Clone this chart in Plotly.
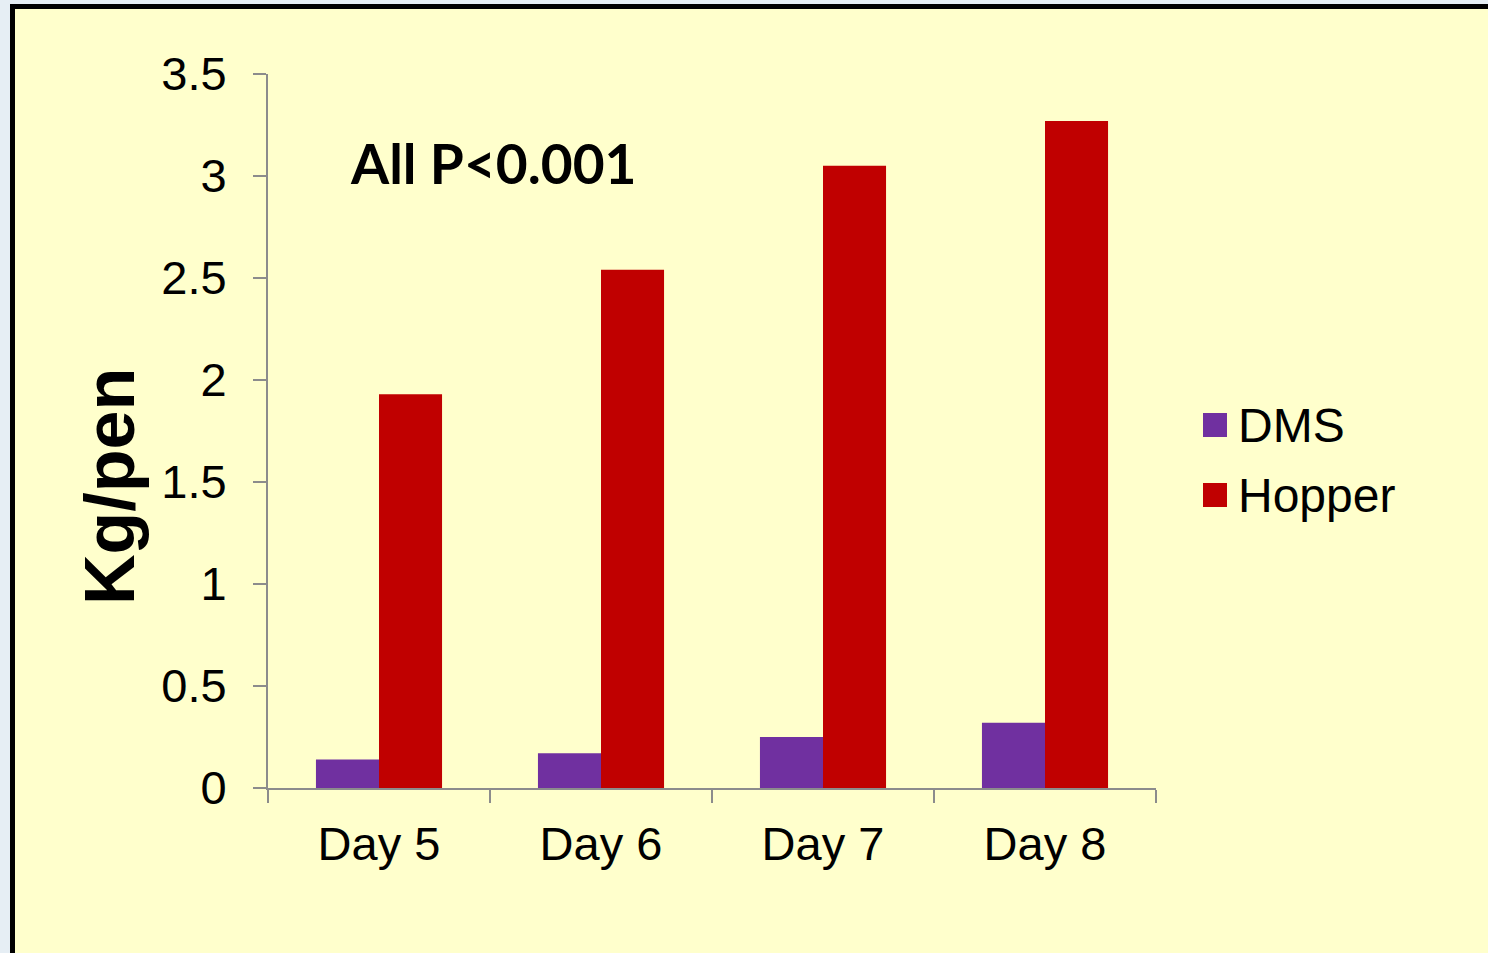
import plotly.graph_objects as go

categories = ["Day 5", "Day 6", "Day 7", "Day 8"]
series_names = ["DMS", "Hopper"]
dms_values = [0.14, 0.17, 0.25, 0.32]
hopper_values = [1.93, 2.54, 3.05, 3.27]
series_colors = ["#7030A0", "#C00000"]
y_ticks = [0, 0.5, 1, 1.5, 2, 2.5, 3, 3.5]

W, H = 1488, 953
L, R, T, B = 268, 1156, 74, 788


def px(x):
    return (x - L) / (R - L)


def py(y):
    return (B - y) / (B - T)


fig = go.Figure()
for name, vals, col in zip(series_names, [dms_values, hopper_values], series_colors):
    fig.add_trace(go.Bar(x=categories, y=vals, name=name, marker=dict(color=col, line=dict(width=0)),
                         showlegend=False))

font_main = "Liberation Sans, Arial, sans-serif"
axis_gray = "#8C8C8C"

fig.update_layout(
    width=W, height=H,
    margin=dict(l=L, r=W - R, t=T, b=H - B, pad=0),
    paper_bgcolor="#E6EEF4",
    plot_bgcolor="rgba(0,0,0,0)",
    barmode="group",
    bargap=0.432,
    bargroupgap=0,
    font=dict(family=font_main, color="black"),
    xaxis=dict(
        showline=True, linecolor=axis_gray, linewidth=2,
        ticks="outside", ticklen=13, tickwidth=2, tickcolor=axis_gray,
        tickson="boundaries", showgrid=False, zeroline=False,
        tickfont=dict(size=47, family=font_main, color="black"),
        ticklabelstandoff=14,
    ),
    yaxis=dict(
        range=[0, 3.5], tickvals=y_ticks, ticktext=[f"{v:g}" for v in y_ticks],
        showline=True, linecolor=axis_gray, linewidth=2,
        ticks="outside", ticklen=13, tickwidth=2, tickcolor=axis_gray,
        showgrid=False, zeroline=False,
        tickfont=dict(size=47, family=font_main, color="black"),
        ticklabelstandoff=17,
    ),
)

# Slide-like framed background
fig.add_shape(type="rect", xref="paper", yref="paper",
              x0=px(12.5), y0=py(975), x1=px(1510), y1=py(6.5),
              fillcolor="#FFFFCC", line=dict(color="black", width=5), layer="below")

# Y-axis title
fig.add_annotation(xref="paper", yref="paper", x=px(110), y=py(487),
                   text="<b>Kg/pen</b>", textangle=-90, showarrow=False,
                   font=dict(size=70, family=font_main, color="black"),
                   xanchor="center", yanchor="middle")

# Significance note
fig.add_annotation(xref="paper", yref="paper", x=px(348), y=py(163),
                   text="<b>All P<0.001</b>", showarrow=False,
                   font=dict(size=55, family="Lato, sans-serif", color="black"),
                   xanchor="left", yanchor="middle")

# Legend
legend_y = [425, 495]
for name, col, yc in zip(series_names, series_colors, legend_y):
    fig.add_shape(type="rect", xref="paper", yref="paper",
                  x0=px(1203), x1=px(1227), y0=py(yc + 12), y1=py(yc - 12),
                  fillcolor=col, line=dict(width=0))
    fig.add_annotation(xref="paper", yref="paper", x=px(1236), y=py(yc),
                       text=name, showarrow=False,
                       font=dict(size=48, family=font_main, color="black"),
                       xanchor="left", yanchor="middle")

fig.write_html("out.html", config={"displayModeBar": False},
               post_script="document.body.style.margin='0';")
